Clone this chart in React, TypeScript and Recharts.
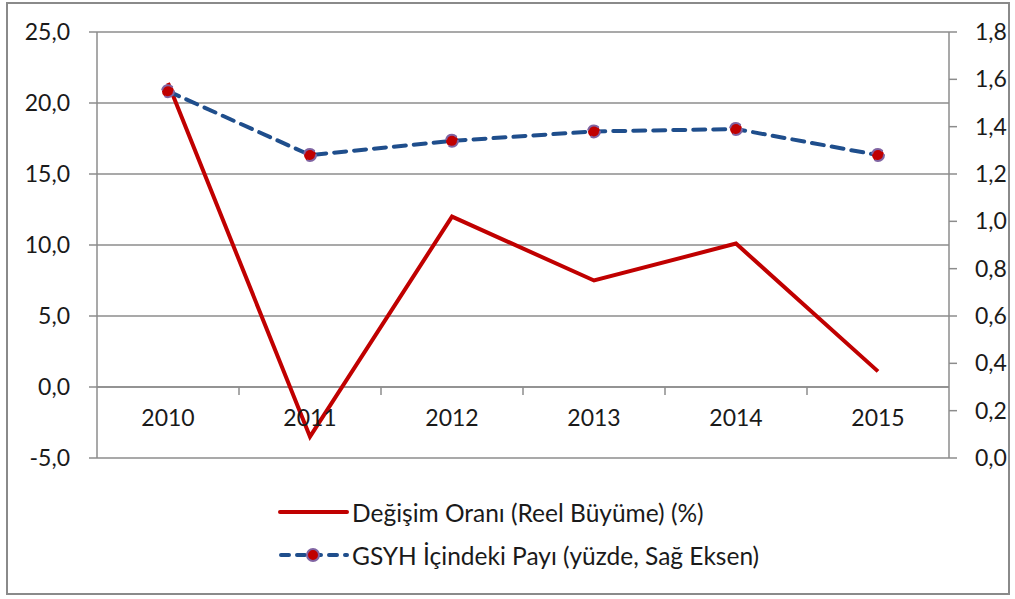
import React from "react";
import { LineChart, Line, XAxis, YAxis, CartesianGrid, ReferenceLine } from "recharts";

const years = ["2010", "2011", "2012", "2013", "2014", "2015"];
const growth = [21.4, -3.5, 12.0, 7.5, 10.1, 1.1];
const gdpShare = [1.55, 1.28, 1.34, 1.38, 1.39, 1.28];

const leftTicks = [-5, 0, 5, 10, 15, 20, 25];
const rightTicks = [0, 0.2, 0.4, 0.6, 0.8, 1.0, 1.2, 1.4, 1.6, 1.8];

const growthName = "Değişim Oranı (Reel Büyüme) (%)";
const shareName = "GSYH İçindeki Payı (yüzde, Sağ Eksen)";

const data = years.map((y, i) => ({ year: y, growth: growth[i], share: gdpShare[i] }));

const FONT = "Lato, 'Open Sans', sans-serif";
const RED = "#C00000";
const BLUE = "#1F4E8C";
const GRID = "#8c8c8c";

const fmt = (v: number) => v.toFixed(1).replace(".", ",");

// zero line with tick marks at category boundaries (Excel style category axis)
const ZeroAxis = (props: any) => {
  const { x1, x2, y1 } = props;
  const n = years.length;
  const step = (x2 - x1) / n;
  const marks = [];
  for (let i = 1; i < n; i++) {
    const x = x1 + step * i;
    marks.push(<line key={i} x1={x} x2={x} y1={y1} y2={y1 + 8} stroke={GRID} strokeWidth={1.5} />);
  }
  return (
    <g>
      <line x1={x1} x2={x2} y1={y1} y2={y1} stroke={GRID} strokeWidth={1.5} />
      {marks}
    </g>
  );
};

export default function App() {
  return (
    <div style={{ position: "absolute", left: 0, top: 0, width: 1015, height: 599, background: "#fff" }}>
      <div
        style={{
          position: "absolute",
          left: 6,
          top: 2,
          width: 1000,
          height: 589,
          border: "2px solid #8a8a8a",
        }}
      />
      <div style={{ position: "absolute", left: 0, top: 0 }}>
        <LineChart width={1015} height={599} data={data} margin={{ top: 32, right: 0, left: 0, bottom: 0 }}>
          <CartesianGrid horizontal vertical={false} stroke={GRID} strokeWidth={1.5} yAxisId="left" />
          <XAxis
            dataKey="year"
            scale="band"
            height={141}
            axisLine={false}
            tickLine={false}
            interval={0}
            tick={{ fill: "#1a1a1a", fontSize: 23, fontFamily: FONT, dy: -56 }}
          />
          <YAxis
            yAxisId="left"
            orientation="left"
            width={97}
            domain={[-5, 25]}
            ticks={leftTicks}
            tickFormatter={fmt}
            axisLine={{ stroke: GRID, strokeWidth: 1.5 }}
            tickLine={{ stroke: GRID, strokeWidth: 1.5 }}
            tickSize={8}
            tickMargin={19}
            tick={{ fill: "#1a1a1a", fontSize: 23, fontFamily: FONT }}
          />
          <YAxis
            yAxisId="right"
            orientation="right"
            width={66}
            domain={[0, 1.8]}
            ticks={rightTicks}
            tickFormatter={fmt}
            axisLine={{ stroke: GRID, strokeWidth: 1.5 }}
            tickLine={{ stroke: GRID, strokeWidth: 1.5 }}
            tickSize={8}
            tickMargin={18}
            tick={{ fill: "#1a1a1a", fontSize: 23, fontFamily: FONT, textAnchor: "start" }}
          />
          <ReferenceLine yAxisId="left" y={0} shape={<ZeroAxis />} />
          <Line
            yAxisId="left"
            dataKey="growth"
            name={growthName}
            stroke={RED}
            strokeWidth={4}
            dot={false}
            isAnimationActive={false}
          />
          <Line
            yAxisId="right"
            dataKey="share"
            name={shareName}
            stroke={BLUE}
            strokeWidth={4}
            strokeDasharray="12 8"
            strokeLinecap="round"
            dot={{ r: 6, fill: RED, stroke: "#8064A2", strokeWidth: 2 }}
            isAnimationActive={false}
          />
        </LineChart>
      </div>
      <div
        style={{
          position: "absolute",
          left: 278,
          top: 495,
          fontFamily: FONT,
          fontSize: 24.5,
          color: "#1a1a1a",
        }}
      >
        <div style={{ display: "flex", alignItems: "center", height: 34 }}>
          <svg width={74} height={20}>
            <line x1={2} x2={69} y1={10} y2={10} stroke={RED} strokeWidth={4} strokeLinecap="round" />
          </svg>
          <span>{growthName}</span>
        </div>
        <div style={{ display: "flex", alignItems: "center", height: 34, marginTop: 9 }}>
          <svg width={74} height={20}>
            <line x1={3} x2={69} y1={10} y2={10} stroke={BLUE} strokeWidth={4} strokeDasharray="8 8" strokeLinecap="round" />
            <circle cx={35} cy={10} r={6} fill={RED} stroke="#8064A2" strokeWidth={2} />
          </svg>
          <span>{shareName}</span>
        </div>
      </div>
    </div>
  );
}
